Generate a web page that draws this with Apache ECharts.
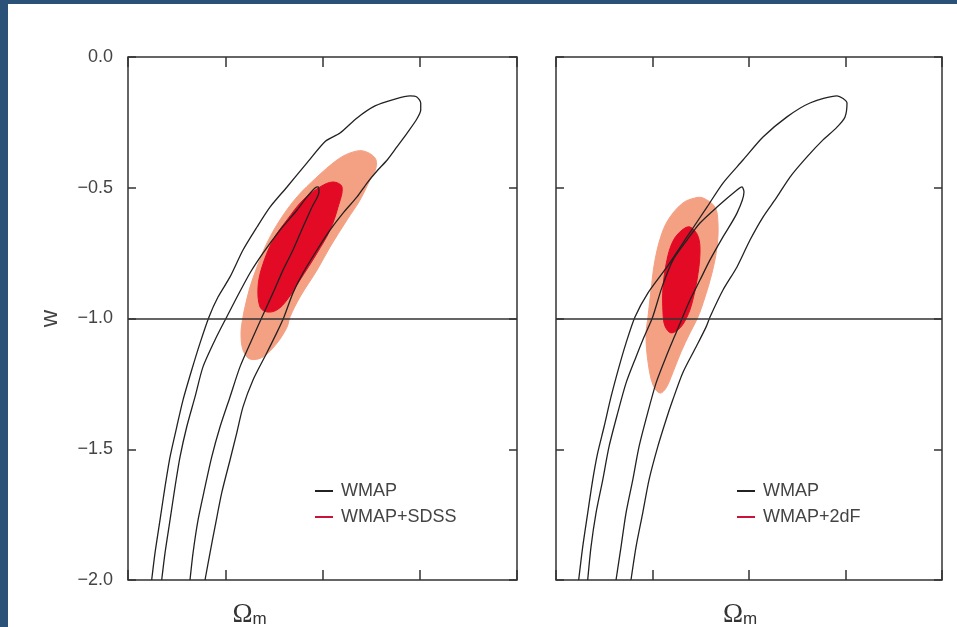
<!DOCTYPE html>
<html>
<head>
<meta charset="utf-8">
<script src="https://cdn.jsdelivr.net/npm/echarts@6/dist/echarts.min.js"></script>
<style>
  html, body { margin: 0; padding: 0; background: #fff; }
  #chart { width: 957px; height: 627px; }
</style>
</head>
<body>
<div id="chart"></div>
<script>
// Axis ticks (Omega_m horizontally, w vertically)
const xTicks = [0, 0.2, 0.4, 0.6, 0.8];
const yTicks = [0, -0.5, -1, -1.5, -2];
const yTickLabels = ['0.0', '\u22120.5', '\u22121.0', '\u22121.5', '\u22122.0'];
const wCosmologicalConstant = -1;

// WMAP alone: 95% and 68% contours, [Omega_m, w], traced open at w = -2
const wmapOuterA = [
  [0.0487, -2.0], [0.0555, -1.897], [0.0658, -1.771], [0.0761, -1.644], [0.0864, -1.530],
  [0.1002, -1.415], [0.1131, -1.312], [0.1310, -1.197], [0.1481, -1.094], [0.1666, -0.994],
  [0.1851, -0.918], [0.2098, -0.841], [0.2365, -0.738], [0.2653, -0.650], [0.2920, -0.574],
  [0.3270, -0.497], [0.3681, -0.405], [0.4060, -0.322], [0.4360, -0.291], [0.4710, -0.233],
  [0.5080, -0.187], [0.5490, -0.161], [0.5800, -0.149], [0.5940, -0.153], [0.6020, -0.176],
  [0.6020, -0.203], [0.5940, -0.237], [0.5740, -0.291], [0.5530, -0.344], [0.5330, -0.394],
  [0.5120, -0.436], [0.4915, -0.482], [0.4710, -0.535], [0.4422, -0.597], [0.4154, -0.662],
  [0.3887, -0.738], [0.3599, -0.826], [0.3393, -0.902], [0.3208, -0.994], [0.3058, -1.055],
  [0.2853, -1.132], [0.2571, -1.235], [0.2365, -1.338], [0.2236, -1.438], [0.2098, -1.541],
  [0.1927, -1.667], [0.1789, -1.797], [0.1686, -1.897], [0.1584, -2.0]
];
const wmapInnerA = [
  [0.0693, -2.0], [0.0761, -1.897], [0.0864, -1.771], [0.0967, -1.644], [0.1069, -1.530],
  [0.1207, -1.415], [0.1378, -1.300], [0.1542, -1.185], [0.1789, -1.082], [0.2030, -0.994],
  [0.2242, -0.918], [0.2509, -0.826], [0.2776, -0.750], [0.3126, -0.662], [0.3476, -0.585],
  [0.3681, -0.535], [0.3846, -0.501], [0.3908, -0.497], [0.3928, -0.516], [0.3784, -0.574],
  [0.3599, -0.650], [0.3393, -0.738], [0.3188, -0.815], [0.2982, -0.902], [0.2756, -0.994],
  [0.2544, -1.082], [0.2303, -1.185], [0.2098, -1.300], [0.1892, -1.415], [0.1721, -1.530],
  [0.1584, -1.644], [0.1440, -1.771], [0.1337, -1.897], [0.1275, -2.0]
];
const wmapOuterB = [
  [0.0470, -2.0], [0.0553, -1.874], [0.0657, -1.744], [0.0761, -1.617], [0.0864, -1.514],
  [0.0995, -1.415], [0.1140, -1.300], [0.1306, -1.185], [0.1451, -1.094], [0.1637, -0.994],
  [0.1907, -0.902], [0.2300, -0.803], [0.2715, -0.688], [0.3129, -0.574], [0.3461, -0.482],
  [0.3876, -0.394], [0.4290, -0.306], [0.4787, -0.229], [0.5264, -0.176], [0.5824, -0.149],
  [0.6031, -0.176], [0.5990, -0.229], [0.5824, -0.268], [0.5534, -0.317], [0.5202, -0.382],
  [0.4850, -0.459], [0.4580, -0.535], [0.4290, -0.612], [0.4021, -0.700], [0.3751, -0.803],
  [0.3461, -0.891], [0.3192, -0.994], [0.3109, -1.033], [0.2902, -1.109], [0.2626, -1.208],
  [0.2419, -1.312], [0.2280, -1.388], [0.2108, -1.491], [0.1927, -1.618], [0.1797, -1.744],
  [0.1658, -1.874], [0.1554, -2.0]
];
const wmapInnerB = [
  [0.0657, -2.0], [0.0725, -1.874], [0.0829, -1.744], [0.0968, -1.618], [0.1098, -1.491],
  [0.1279, -1.361], [0.1451, -1.247], [0.1658, -1.147], [0.1824, -1.071], [0.2004, -0.994],
  [0.2197, -0.880], [0.2425, -0.776], [0.2715, -0.700], [0.2984, -0.635], [0.3337, -0.574],
  [0.3751, -0.509], [0.3855, -0.497], [0.3896, -0.516], [0.3751, -0.597], [0.3461, -0.688],
  [0.3192, -0.776], [0.2984, -0.853], [0.2777, -0.929], [0.2626, -0.994], [0.2487, -1.055],
  [0.2280, -1.147], [0.2073, -1.247], [0.1900, -1.361], [0.1720, -1.491], [0.1590, -1.618],
  [0.1451, -1.744], [0.1347, -1.874], [0.1244, -2.0]
];

// WMAP+SDSS: 95% and 68% regions (closed)
const sdss95 = [
  [0.4833, -0.359], [0.5080, -0.386], [0.5100, -0.424], [0.4977, -0.470], [0.4771, -0.547],
  [0.4504, -0.623], [0.4154, -0.727], [0.3887, -0.815], [0.3537, -0.918], [0.3332, -0.994],
  [0.3270, -1.033], [0.3064, -1.094], [0.2776, -1.147], [0.2509, -1.155], [0.2365, -1.120],
  [0.2324, -1.055], [0.2365, -0.994], [0.2406, -0.956], [0.2509, -0.880], [0.2653, -0.803],
  [0.2859, -0.711], [0.3126, -0.623], [0.3476, -0.535], [0.3887, -0.459], [0.4298, -0.394],
  [0.4566, -0.367]
];
const sdss68 = [
  [0.4216, -0.478], [0.4401, -0.497], [0.4319, -0.574], [0.4154, -0.662], [0.3887, -0.750],
  [0.3537, -0.853], [0.3270, -0.929], [0.3064, -0.967], [0.2859, -0.975], [0.2715, -0.956],
  [0.2674, -0.880], [0.2756, -0.803], [0.2982, -0.700], [0.3270, -0.623], [0.3599, -0.547],
  [0.3949, -0.497]
];

// WMAP+2dF: 95% and 68% regions (closed)
const twodf95 = [
  [0.3047, -0.539], [0.3295, -0.574], [0.3357, -0.635], [0.3337, -0.727], [0.3233, -0.826],
  [0.3088, -0.918], [0.2943, -0.994], [0.2777, -1.055], [0.2591, -1.128], [0.2425, -1.205],
  [0.2280, -1.266], [0.2155, -1.285], [0.2010, -1.254], [0.1907, -1.166], [0.1865, -1.063],
  [0.1907, -0.994], [0.1969, -0.891], [0.2052, -0.776], [0.2197, -0.673], [0.2363, -0.612],
  [0.2632, -0.558], [0.2881, -0.539]
];
const twodf68 = [
  [0.2777, -0.650], [0.2943, -0.685], [0.2984, -0.750], [0.2922, -0.853], [0.2819, -0.941],
  [0.2715, -0.994], [0.2570, -1.036], [0.2383, -1.055], [0.2259, -1.029], [0.2218, -0.979],
  [0.2218, -0.880], [0.2300, -0.776], [0.2425, -0.704], [0.2611, -0.662]
];

const legendLeft = ['WMAP', 'WMAP+SDSS'];
const legendRight = ['WMAP', 'WMAP+2dF'];

const SANS = "'Liberation Sans', Arial, Helvetica, sans-serif";
const SERIF = "'Liberation Serif', 'Times New Roman', serif";
const INK = '#333';
const CONTOUR = '#222';
const SALMON = '#f4a083';
const CRIMSON = '#e20a24';
const LEGEND_RED = '#c8143c';

function tickLabel(v) {
  const i = yTicks.findIndex(t => Math.abs(t - v) < 1e-9);
  return i >= 0 ? yTickLabels[i] : '';
}

function xAxisPair(gridIndex, nameShift) {
  const common = {
    type: 'value', gridIndex, min: xTicks[0], max: xTicks[xTicks.length - 1],
    interval: xTicks[1] - xTicks[0],
    axisLine: { show: false, onZero: false }, splitLine: { show: false },
    axisTick: { show: true, inside: true, length: 10, lineStyle: { color: INK, width: 1.5 } },
    axisLabel: { show: false }
  };
  return [
    Object.assign({}, common, {
      position: 'bottom',
      name: '{o|\u03A9}{m|m}', nameLocation: 'middle', nameGap: 22,
      nameTextStyle: {
        padding: [0, nameShift, 0, 0],
        rich: {
          o: { fontFamily: SERIF, fontSize: 27, color: INK, lineHeight: 26 },
          m: { fontFamily: SANS, fontSize: 17, color: INK, lineHeight: 26, padding: [8, 0, 0, 0] }
        }
      }
    }),
    Object.assign({}, common, { position: 'top' })
  ];
}

function yAxisPair(gridIndex, withLabels) {
  const common = {
    type: 'value', gridIndex, min: yTicks[yTicks.length - 1], max: yTicks[0],
    interval: 0.5,
    axisLine: { show: false, onZero: false }, splitLine: { show: false },
    axisTick: { show: true, inside: true, length: 8, lineStyle: { color: INK, width: 1.5 } }
  };
  const left = Object.assign({}, common, {
    position: 'left',
    axisLabel: withLabels
      ? { show: true, margin: 15, formatter: tickLabel, fontFamily: SANS, fontSize: 18, color: '#444' }
      : { show: false }
  });
  if (withLabels) {
    Object.assign(left, {
      name: 'w', nameLocation: 'middle', nameGap: 66, nameRotate: 90,
      nameTextStyle: { fontFamily: SANS, fontSize: 24, color: '#444' }
    });
  }
  return [left, Object.assign({}, common, { position: 'right', axisLabel: { show: false } })];
}

function region(name, pts, color, xi, yi) {
  return {
    type: 'custom', name, xAxisIndex: xi, yAxisIndex: yi, z: 2, silent: true,
    itemStyle: { color }, data: [0], animation: false,
    renderItem: (params, api) => ({
      type: 'polygon',
      shape: { points: pts.map(p => api.coord(p)), smooth: 0.35 },
      style: { fill: color, stroke: color, lineWidth: 1 }
    })
  };
}

function contour(pts, xi, yi, withRef) {
  const s = {
    type: 'line', name: 'WMAP', xAxisIndex: xi, yAxisIndex: yi, z: 4,
    data: pts, showSymbol: false, smooth: 0.25, silent: true, animation: false,
    itemStyle: { color: CONTOUR },
    lineStyle: { color: CONTOUR, width: 1.3 }
  };
  if (withRef) {
    s.markLine = {
      silent: true, symbol: ['none', 'none'], label: { show: false }, animation: false,
      lineStyle: { color: INK, width: 1.6, type: 'solid' },
      data: [{ yAxis: wCosmologicalConstant }]
    };
  }
  return s;
}

function legendBlock(left, names, redName) {
  return {
    left, top: 482, padding: 0, orient: 'vertical', icon: 'rect', selectedMode: false,
    itemWidth: 18, itemHeight: 2, itemGap: 8,
    textStyle: { fontFamily: SANS, fontSize: 18, color: '#444', lineHeight: 18, padding: [0, 0, 0, 3] },
    data: names.map(n => ({ name: n, itemStyle: { color: n === redName ? LEGEND_RED : CONTOUR } }))
  };
}

const frame = '#2b5178';
const gridBase = {
  top: 57, height: 523, show: true, borderColor: INK, borderWidth: 1.5,
  backgroundColor: 'transparent', containLabel: false, outerBoundsMode: 'none'
};

const option = {
  backgroundColor: '#fff',
  animation: false,
  grid: [
    Object.assign({ left: 128, width: 389 }, gridBase),
    Object.assign({ left: 556, width: 386 }, gridBase)
  ],
  xAxis: [...xAxisPair(0, 146), ...xAxisPair(1, 18)],
  yAxis: [...yAxisPair(0, true), ...yAxisPair(1, false)],
  legend: [legendBlock(315, legendLeft, 'WMAP+SDSS'), legendBlock(737, legendRight, 'WMAP+2dF')],
  graphic: [
    { type: 'rect', left: 0, top: 0, z: 100, shape: { width: 8, height: 627 }, style: { fill: frame } },
    { type: 'rect', left: 0, top: 0, z: 100, shape: { width: 957, height: 4 }, style: { fill: frame } }
  ],
  series: [
    region('WMAP+SDSS', sdss95, SALMON, 0, 0),
    region('WMAP+SDSS', sdss68, CRIMSON, 0, 0),
    contour(wmapOuterA, 0, 0, true),
    contour(wmapInnerA, 0, 0, false),
    region('WMAP+2dF', twodf95, SALMON, 2, 2),
    region('WMAP+2dF', twodf68, CRIMSON, 2, 2),
    contour(wmapOuterB, 2, 2, true),
    contour(wmapInnerB, 2, 2, false)
  ]
};

const chart = echarts.init(document.getElementById('chart'), null, { renderer: 'canvas' });
chart.setOption(option);
</script>
</body>
</html>
